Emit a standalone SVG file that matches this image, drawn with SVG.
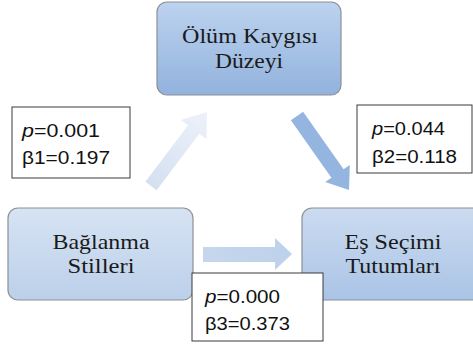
<svg xmlns="http://www.w3.org/2000/svg" width="473" height="347" viewBox="0 0 473 347">
<defs>
<linearGradient id="gTop" x1="0" y1="0" x2="0" y2="1"><stop offset="0" stop-color="#bcd3ef"/><stop offset="1" stop-color="#92b2dd"/></linearGradient>
<linearGradient id="gLeft" x1="0" y1="0" x2="0" y2="1"><stop offset="0" stop-color="#d6e3f3"/><stop offset="1" stop-color="#bcd0ea"/></linearGradient>
<linearGradient id="gRight" x1="0" y1="0" x2="0" y2="1"><stop offset="0" stop-color="#cbdbf0"/><stop offset="1" stop-color="#aac4e6"/></linearGradient>
<linearGradient id="gA1" gradientUnits="userSpaceOnUse" x1="151" y1="186" x2="207" y2="112"><stop offset="0" stop-color="#d4e0f1"/><stop offset="1" stop-color="#edf2f9"/></linearGradient>
<linearGradient id="gA3" x1="0" y1="0" x2="1" y2="0"><stop offset="0" stop-color="#c6d7ed"/><stop offset="1" stop-color="#bdd1ea"/></linearGradient>
</defs>
<style>
.node{stroke:#8c9096;stroke-width:1.2}
.nt{font-size:21px;fill:#1a1a1a;text-anchor:middle}
.lb{fill:#ffffff;stroke:#3a3a3a;stroke-width:1}
.lt{font-size:18px;fill:#111111}
</style>
<rect width="473" height="347" fill="#ffffff"/>
<g id="connectors">
<polygon id="arrow1" fill="url(#gA1)" points="145.4,181.8 188.1,125.3 180.9,119.9 207,112 206.5,139.1 199.3,133.7 156.6,190.2"/>
<polygon id="arrow2" fill="#94b5df" points="290.9,120.3 303.1,111.7 343.6,169.2 349.8,164.9 349,190 325.2,182.1 331.4,177.8"/>
<polygon id="arrow3" fill="url(#gA3)" points="203,247 275,247 275,238 292,254 275,270 275,262 203,262"/>
</g>
<g id="node-olum" font-family="'Liberation Serif', 'DejaVu Serif', serif">
<rect class="node" x="157" y="2" width="184" height="93" rx="10" fill="url(#gTop)"/>
<text class="nt" x="250" y="43" textLength="136" lengthAdjust="spacingAndGlyphs">Ölüm Kaygısı</text>
<text class="nt" x="249" y="68" textLength="68" lengthAdjust="spacingAndGlyphs">Düzeyi</text>
</g>
<g id="node-baglanma" font-family="'Liberation Serif', 'DejaVu Serif', serif">
<rect class="node" x="8" y="208" width="185" height="92" rx="10" fill="url(#gLeft)"/>
<text class="nt" x="101" y="249" textLength="97" lengthAdjust="spacingAndGlyphs">Bağlanma</text>
<text class="nt" x="101" y="273" textLength="67" lengthAdjust="spacingAndGlyphs">Stilleri</text>
</g>
<g id="node-es" font-family="'Liberation Serif', 'DejaVu Serif', serif">
<rect class="node" x="302" y="208" width="185" height="92" rx="10" fill="url(#gRight)"/>
<text class="nt" x="393" y="249" textLength="97" lengthAdjust="spacingAndGlyphs">Eş Seçimi</text>
<text class="nt" x="393" y="273" textLength="95" lengthAdjust="spacingAndGlyphs">Tutumları</text>
</g>
<g id="label1" font-family="'Liberation Sans', Arial, sans-serif">
<rect class="lb" x="12" y="107" width="118" height="71"/>
<text class="lt" x="22" y="137" textLength="78" lengthAdjust="spacingAndGlyphs"><tspan font-style="italic">p</tspan>=0.001</text>
<text class="lt" x="22" y="164" textLength="88" lengthAdjust="spacingAndGlyphs">β1=0.197</text>
</g>
<g id="label2" font-family="'Liberation Sans', Arial, sans-serif">
<rect class="lb" x="357" y="105" width="115" height="68"/>
<text class="lt" x="372" y="135" textLength="73" lengthAdjust="spacingAndGlyphs"><tspan font-style="italic">p</tspan>=0.044</text>
<text class="lt" x="372" y="162.5" textLength="85" lengthAdjust="spacingAndGlyphs">β2=0.118</text>
</g>
<g id="label3" font-family="'Liberation Sans', Arial, sans-serif">
<rect class="lb" x="192" y="273" width="131" height="68"/>
<text class="lt" x="205" y="303" textLength="75" lengthAdjust="spacingAndGlyphs"><tspan font-style="italic">p</tspan>=0.000</text>
<text class="lt" x="205" y="330" textLength="85" lengthAdjust="spacingAndGlyphs">β3=0.373</text>
</g>
</svg>
